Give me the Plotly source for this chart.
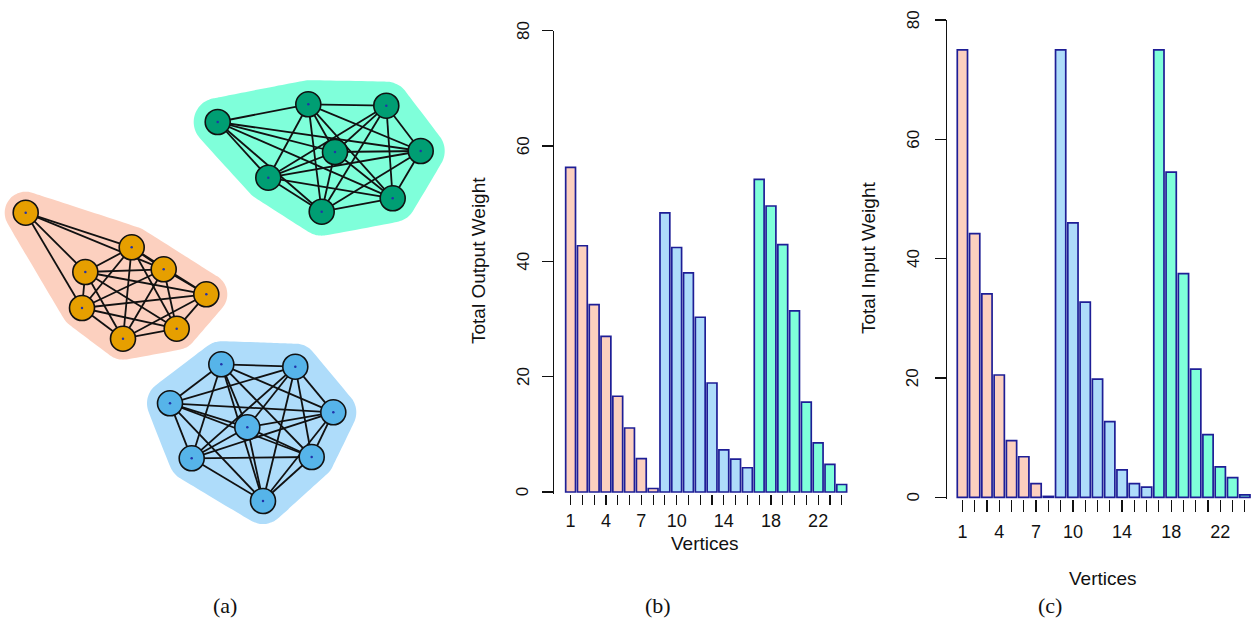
import math
import plotly.graph_objects as go

# ---------------- data ----------------
vertices = list(range(1, 25))
output_weight = [56.3, 42.7, 32.5, 27.0, 16.6, 11.1, 5.8, 0.6,
                 48.4, 42.4, 38.0, 30.3, 18.9, 7.3, 5.7, 4.2,
                 54.2, 49.6, 42.9, 31.4, 15.6, 8.5, 4.8, 1.3]
input_weight = [75.0, 44.2, 34.1, 20.5, 9.5, 6.8, 2.3, 0.15,
                75.0, 46.0, 32.7, 19.8, 12.7, 4.6, 2.3, 1.7,
                75.0, 54.5, 37.5, 21.5, 10.5, 5.1, 3.3, 0.4]
community = ["A"] * 8 + ["B"] * 8 + ["C"] * 8
x_tick_text = ["1", "", "", "4", "", "", "7", "", "", "10", "", "", "",
               "14", "", "", "", "18", "", "", "", "22", "", ""]
y_tick_vals = [0, 20, 40, 60, 80]

# network layout (panel a), one coordinate pair per vertex
node_x = [25.7, 131.7, 85.3, 163.7, 206.3, 82.0, 176.7, 123.0,
          221.3, 295.3, 170.0, 333.3, 247.3, 191.7, 311.7, 263.0,
          217.7, 308.3, 386.3, 420.7, 335.0, 268.3, 392.7, 321.7]
node_y = [212.7, 247.3, 272.0, 269.3, 294.3, 308.0, 328.7, 338.7,
          364.3, 366.7, 403.3, 412.3, 427.3, 458.3, 457.0, 501.0,
          122.0, 104.3, 105.7, 151.0, 152.0, 177.7, 198.3, 211.7]
missing_edges = [(1, 5), (1, 7), (1, 8), (17, 19)]

# ---------------- styles ----------------
W, H = 1254, 622
hull_color = {"A": "#FCD0BF", "B": "#AEDCFA", "C": "#7FFFDA"}
hull_pad = {"A": 21, "B": 23, "C": 24}
node_color = {"A": "#E69F00", "B": "#56B4E9", "C": "#009E73"}
bar_edge = "#1E1E96"
FONT = "Liberation Sans, Arial, sans-serif"


def px(x):
    return x / W


def py(y):
    return 1 - y / H


def convex_hull(pts):
    pts = sorted(set(pts))
    if len(pts) <= 2:
        return pts

    def cross(o, a, b):
        return (a[0] - o[0]) * (b[1] - o[1]) - (a[1] - o[1]) * (b[0] - o[0])
    lower, upper = [], []
    for p in pts:
        while len(lower) >= 2 and cross(lower[-2], lower[-1], p) <= 0:
            lower.pop()
        lower.append(p)
    for p in reversed(pts):
        while len(upper) >= 2 and cross(upper[-2], upper[-1], p) <= 0:
            upper.pop()
        upper.append(p)
    return lower[:-1] + upper[:-1]


fig = go.Figure()

# ---- panel (a): hulls ----
groups = sorted(set(community))
for g in groups:
    idx = [i for i, c in enumerate(community) if c == g]
    r = hull_pad[g]
    pts = []
    for i in idx:
        for k in range(72):
            t = 2 * math.pi * k / 72
            pts.append((round(node_x[i] + r * math.cos(t), 3),
                        round(node_y[i] + r * math.sin(t), 3)))
    hull = convex_hull(pts)
    hull.append(hull[0])
    fig.add_trace(go.Scatter(x=[p[0] for p in hull], y=[p[1] for p in hull],
                             mode="lines", fill="toself", fillcolor=hull_color[g],
                             line=dict(width=0, color=hull_color[g], shape="spline"),
                             hoverinfo="skip", showlegend=False,
                             xaxis="x", yaxis="y"))

# ---- edges ----
ex, ey = [], []
miss = set(missing_edges)
for i in range(24):
    for j in range(i + 1, 24):
        if community[i] != community[j]:
            continue
        if (i + 1, j + 1) in miss:
            continue
        ex += [node_x[i], node_x[j], None]
        ey += [node_y[i], node_y[j], None]
fig.add_trace(go.Scatter(x=ex, y=ey, mode="lines",
                         line=dict(color="#111111", width=1.8),
                         hoverinfo="skip", showlegend=False,
                         xaxis="x", yaxis="y"))

# ---- nodes ----
fig.add_trace(go.Scatter(x=node_x, y=node_y, mode="markers",
                         marker=dict(size=25, color=[node_color[c] for c in community],
                                     line=dict(color="#111111", width=1.6)),
                         hoverinfo="skip", showlegend=False,
                         xaxis="x", yaxis="y"))
fig.add_trace(go.Scatter(x=node_x, y=node_y, mode="markers",
                         marker=dict(size=2.5, color="#2233AA"),
                         hoverinfo="skip", showlegend=False,
                         xaxis="x", yaxis="y"))

# ---- panels (b) and (c): bars ----
bar_colors = [hull_color[c] for c in community]
fig.add_trace(go.Bar(x=vertices, y=output_weight, width=1 / 1.2,
                     marker=dict(color=bar_colors, line=dict(color=bar_edge, width=1.7)),
                     showlegend=False, xaxis="x2", yaxis="y2"))
fig.add_trace(go.Bar(x=vertices, y=input_weight, width=1 / 1.2,
                     marker=dict(color=bar_colors, line=dict(color=bar_edge, width=1.7)),
                     showlegend=False, xaxis="x3", yaxis="y3"))

tickfont = dict(family=FONT, size=18, color="#111111")
xcommon = dict(tickmode="array", tickvals=vertices, ticktext=x_tick_text,
               ticks="outside", tickwidth=1.2, tickcolor="#111111",
               showline=False, showgrid=False, zeroline=False, tickfont=tickfont,
               fixedrange=True)
ycommon = dict(tickmode="array", tickvals=y_tick_vals, ticks="outside", ticklen=11,
               tickwidth=1.2, tickcolor="#111111", showline=True, linecolor="#111111",
               linewidth=1.2, showgrid=False, zeroline=False, showticklabels=False,
               fixedrange=True)

fig.update_layout(
    width=W, height=H,
    margin=dict(l=0, r=0, t=0, b=0),
    paper_bgcolor="white", plot_bgcolor="white",
    bargap=0,
    xaxis=dict(domain=[0, px(460)], range=[0, 460], visible=False, fixedrange=True),
    yaxis=dict(domain=[py(540), py(60)], range=[540, 60], visible=False, fixedrange=True),
    xaxis2=dict(domain=[px(554.3), px(853.5)], range=[-0.382, 25], anchor="y2",
                ticklen=10, **xcommon),
    yaxis2=dict(domain=[py(494), py(30.7)], range=[-0.35, 80], anchor="x2", **ycommon),
    xaxis3=dict(domain=[px(946.7), px(1251)], range=[-0.278, 24.5], anchor="y3",
                ticklen=12, ticklabelstandoff=4, **xcommon),
    yaxis3=dict(domain=[py(499.1), py(20)], range=[-0.3, 80], anchor="x3", **ycommon),
)

# rotated y tick labels (R style, parallel to the axis)
ytick_font = dict(family=FONT, size=17, color="#111111")
for yref, xpos in (("y2", 523.3), ("y3", 913.3)):
    for v in y_tick_vals:
        fig.add_annotation(xref="paper", yref=yref, x=px(xpos), y=v, text=str(v),
                           textangle=-90, showarrow=False, xanchor="center",
                           yanchor="middle", font=ytick_font)

title_font = dict(family=FONT, size=19, color="#111111")
serif = dict(family="Liberation Serif, Times New Roman, serif", size=22, color="#111111")
annotations = [
    dict(text="Vertices", x=px(705), y=py(543), font=title_font),
    dict(text="Vertices", x=px(1103), y=py(578), font=title_font),
    dict(text="Total Output Weight", x=px(478), y=py(261), textangle=-90, font=title_font),
    dict(text="Total Input Weight", x=px(868), y=py(258), textangle=-90, font=title_font),
    dict(text="(a)", x=px(225), y=py(605), font=serif),
    dict(text="(b)", x=px(658), y=py(605), font=serif),
    dict(text="(c)", x=px(1050), y=py(605), font=serif),
]
for a in annotations:
    fig.add_annotation(xref="paper", yref="paper", showarrow=False,
                       xanchor="center", yanchor="middle", **a)

fig.write_html("out.html",
               config={"displayModeBar": False, "staticPlot": True},
               post_script="document.body.style.margin='0px';"
                           "document.body.style.overflow='hidden';")
